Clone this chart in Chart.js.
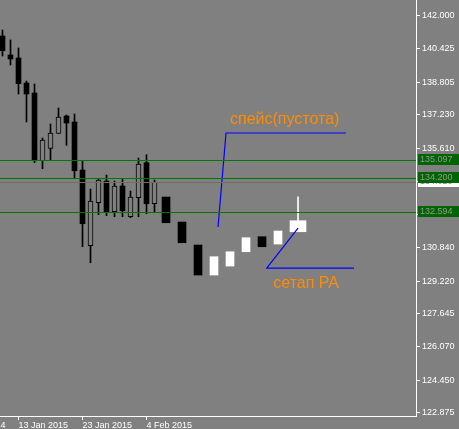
<!DOCTYPE html>
<html><head><meta charset="utf-8">
<script src="https://cdn.jsdelivr.net/npm/chart.js@4/dist/chart.umd.min.js"></script>
<style>html,body{margin:0;padding:0;background:#808080;overflow:hidden}canvas{display:block}</style>
</head><body><canvas id="c" width="459" height="429"></canvas>
<script>
// ---- daily candles (bar index, OHLC) ----
const dayIdx = [0,1,2,3,4,5,6,7,8,9,10,11,12,13,14,15,16,17,18,19];
const dayOpen  = [141.035,140.120,139.975,138.770,138.288,135.024,135.621,136.345,137.179,136.889,134.575,130.926,132.999,134.045,132.565,133.804,132.324,133.240,134.927,132.951];
const dayHigh  = [141.325,140.843,140.457,138.866,138.721,136.118,136.793,137.564,137.227,137.275,135.009,133.659,134.156,134.334,134.045,134.142,133.563,135.154,135.313,134.093];
const dayLow   = [140.071,139.637,138.239,136.889,134.928,134.638,135.057,136.345,135.766,134.156,130.878,130.106,132.421,132.372,132.324,132.324,132.276,132.324,132.469,132.517];
const dayClose = [140.327,139.927,138.736,138.239,135.024,136.022,136.359,137.130,136.841,134.542,131.987,133.081,134.093,132.565,133.804,132.613,133.274,134.865,132.951,133.997];

// ---- drawn "setup" blocks ----
const setupIdx   = [20.44,22.44,24.44,26.44,28.44,30.44,32.44,34.44];
const setupOpen  = [133.274,132.069,130.960,129.514,129.947,130.637,131.360,131.008];
const setupClose = [132.035,131.071,129.514,130.396,130.637,131.312,130.878,131.635];
const bigIdx = [36.94];
const bigOpen = [131.601];
const bigClose = [132.131];
const bigHigh = [133.288];

// ---- horizontal levels ----
const levelValues = [135.097, 134.200, 132.594];
const levelLabels = ['135.097', '134.200', '132.594'];
const bidValue = 134.020;
const bidLabel = '134.020';

// ---- blue drawn lines ----
const spaceLineX = [26.94, 27.94, 42.94];
const spaceLineY = [131.83, 136.36, 136.36];
const setupLineX = [36.94, 33.03, 43.94];
const setupLineY = [131.77, 129.85, 129.85];

// ---- annotations ----
const noteText = ['спейс(пустота)', 'сетап PA'];
const noteX = [28.44, 33.85];
const noteY = [137.01, 129.08];

// ---- axes ----
const yTicks = [142.000,140.425,138.805,137.230,135.610,134.035,132.415,130.840,129.220,127.645,126.070,124.450,122.875];
const xTickIdx = [-6, 2, 10, 18];
const xTickLabels = ['31 Dec 2014', '13 Jan 2015', '23 Jan 2015', '4 Feb 2015'];
const X_MIN = -0.3125, X_MAX = 51.6875, Y_MIN = 122.72, Y_MAX = 142.77;

const BG = '#808080';
const GREEN = '#007800';

const wickData = dayIdx.map((x,i)=>({x, y:[dayLow[i], dayHigh[i]]}));
const bearData = [], bullData = [];
dayIdx.forEach((x,i)=>{
  const d = {x, y:[Math.min(dayOpen[i],dayClose[i]), Math.max(dayOpen[i],dayClose[i])]};
  (dayClose[i] < dayOpen[i] ? bearData : bullData).push(d);
});
const sBear = [], sBull = [];
setupIdx.forEach((x,i)=>{
  const d = {x, y:[Math.min(setupOpen[i],setupClose[i]), Math.max(setupOpen[i],setupClose[i])]};
  (setupClose[i] < setupOpen[i] ? sBear : sBull).push(d);
});
const bigBody = bigIdx.map((x,i)=>({x, y:[bigOpen[i], bigClose[i]]}));
const bigWick = bigIdx.map((x,i)=>({x, y:[bigClose[i], bigHigh[i]]}));

const mkPoly = (xs, ys) => ({type:'line', data: xs.map((x,i)=>({x, y:ys[i]})), borderColor:'#0000ff', borderWidth:1.2, pointRadius:0, tension:0, order:0});

const bar = (data, thick, bg, order, extra) => Object.assign({type:'bar', data, barThickness:thick, backgroundColor:bg, borderWidth:0, grouped:false, order}, extra||{});

const overlay = {
  id:'overlay',
  beforeDraw(chart){
    const c = chart.ctx; c.save(); c.fillStyle = BG; c.fillRect(0,0,chart.width,chart.height); c.restore();
  },
  afterDatasetsDraw(chart){
    // horizontal level lines, snapped to whole pixels
    const c = chart.ctx, ys = chart.scales.y, a = chart.chartArea;
    const hline = (v, col) => {
      const py = Math.ceil(ys.getPixelForValue(v)) + 0.5;
      c.strokeStyle = col; c.lineWidth = 1; c.beginPath(); c.moveTo(a.left, py); c.lineTo(a.right, py); c.stroke();
    };
    c.save();
    hline(bidValue, '#6e6e6e');
    levelValues.forEach(v=>hline(v, GREEN));
    c.restore();
  },
  afterDraw(chart){
    const c = chart.ctx, ys = chart.scales.y, xs = chart.scales.x, r = chart.chartArea.right;
    const box = (v, txt, fill, col) => {
      const py = Math.ceil(ys.getPixelForValue(v));
      c.fillStyle = fill; c.fillRect(r+2, py-6, chart.width-r-2, 11);
      c.fillStyle = col; c.font = '9px "Liberation Sans"'; c.textBaseline='middle'; c.textAlign='left';
      c.fillText(txt, r+4, py);
    };
    c.save();
    box(bidValue, bidLabel, '#ffffff', '#808080');
    levelValues.forEach((v,i)=>box(v, levelLabels[i], '#006400', '#909a90'));
    c.font = '16px "Liberation Sans"'; c.fillStyle = '#ff8c00'; c.textBaseline='middle'; c.textAlign='left';
    noteText.forEach((t,i)=>c.fillText(t, xs.getPixelForValue(noteX[i]), ys.getPixelForValue(noteY[i])));
    c.restore();
  }
};

new Chart(document.getElementById('c'), {
  type:'bar',
  data:{ datasets:[
    mkPoly(spaceLineX, spaceLineY),
    mkPoly(setupLineX, setupLineY),
    bar(bearData, 5, '#000000', 2),
    bar(bullData, 5, BG, 2, {borderColor:'#000000', borderWidth:1, borderSkipped:false}),
    bar(sBear, 8, '#000000', 2),
    bar(sBull, 8, '#ffffff', 2),
    bar(bigBody, 16, '#ffffff', 2),
    bar(bigWick, 1, '#ffffff', 3),
    bar(wickData, 1, '#000000', 3)
  ]},
  options:{
    responsive:false, animation:false, maintainAspectRatio:false,
    layout:{padding:0},
    plugins:{legend:{display:false}, tooltip:{enabled:false}},
    scales:{
      x:{ type:'linear', min:X_MIN, max:X_MAX, offset:false,
        afterBuildTicks: s => { s.ticks = xTickIdx.map(v=>({value:v})); },
        afterFit: s => { s.height = 13; s.paddingLeft = 0; s.paddingRight = 0; },
        grid:{ drawOnChartArea:false, offset:false, tickLength:4, color:'#ffffff' },
        border:{ color:'#ffffff', width:1 },
        ticks:{ color:'#ffffff', align:'start', padding:0, autoSkip:false, maxRotation:0,
          font:{family:'Liberation Sans', size:9},
          callback:(v,i)=>xTickLabels[i] }
      },
      y:{ type:'linear', position:'right', min:Y_MIN, max:Y_MAX,
        afterBuildTicks: s => { s.ticks = yTicks.map(v=>({value:v})); },
        afterFit: s => { s.width = 43; s.paddingTop = 0; s.paddingBottom = 0; },
        grid:{ drawOnChartArea:false, tickLength:4, color:'#ffffff' },
        border:{ color:'#ffffff', width:1 },
        ticks:{ color:'#ffffff', padding:2, font:{family:'Liberation Sans', size:9},
          callback:v=>Number(v).toFixed(3) }
      }
    }
  },
  plugins:[overlay]
});
</script></body></html>
